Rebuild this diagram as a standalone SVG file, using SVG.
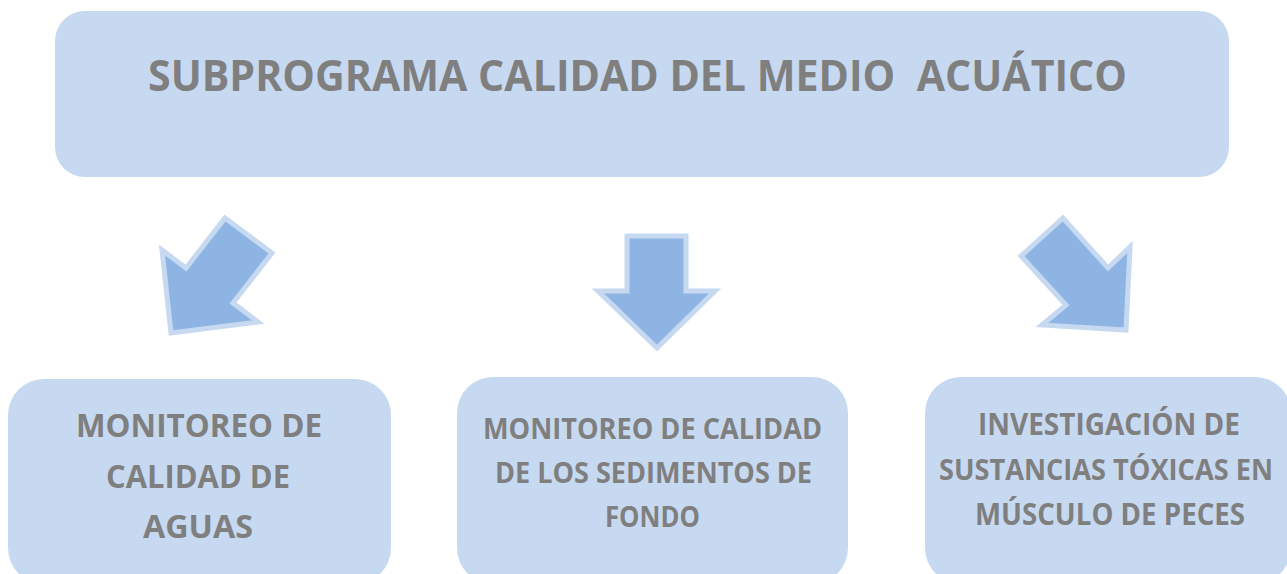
<svg xmlns="http://www.w3.org/2000/svg" width="1287" height="574" viewBox="0 0 1287 574">
<style>
.box{fill:#C6D9F1;}
.t{font-family:"Open Sans","Liberation Sans",sans-serif;font-weight:bold;fill:#7F7F7F;text-anchor:middle;}
.arr{fill:#8EB4E3;stroke:#C6D9F1;stroke-width:5;stroke-linejoin:miter;}
</style>
<rect width="1287" height="574" fill="#FFFFFF"/>
<g id="title">
<rect class="box" x="55" y="11" width="1174" height="166" rx="30" ry="30"/>
<text class="t" x="637.5" y="91" font-size="43" textLength="979" lengthAdjust="spacingAndGlyphs" xml:space="preserve">SUBPROGRAMA CALIDAD DEL MEDIO  ACUÁTICO</text>
</g>
<g id="connectors">
<polygon class="arr" points="171,333 162,250 186,268 225,218 272,253 233,303 258,322"/>
<polygon class="arr" points="627,236 686,236 686,291 715,291 657,348 598,291 627,291"/>
<polygon class="arr" points="1021,256 1063,218 1108,268 1130,247 1126,330 1042,325 1066,305"/>
</g>
<g id="node-aguas">
<rect class="box" x="8" y="379" width="383" height="205" rx="36" ry="36"/>
<text class="t" x="199" y="437" font-size="32.5" textLength="246" lengthAdjust="spacingAndGlyphs">MONITOREO DE</text>
<text class="t" x="198" y="488" font-size="32.5" textLength="184" lengthAdjust="spacingAndGlyphs">CALIDAD DE</text>
<text class="t" x="198" y="538" font-size="32.5" textLength="110" lengthAdjust="spacingAndGlyphs">AGUAS</text>
</g>
<g id="node-sedimentos">
<rect class="box" x="457" y="377" width="391" height="207" rx="36" ry="36"/>
<text class="t" x="652.5" y="439" font-size="28" textLength="339" lengthAdjust="spacingAndGlyphs">MONITOREO DE CALIDAD</text>
<text class="t" x="653.5" y="483" font-size="28" textLength="317" lengthAdjust="spacingAndGlyphs">DE LOS SEDIMENTOS DE</text>
<text class="t" x="652.5" y="527" font-size="28" textLength="95" lengthAdjust="spacingAndGlyphs">FONDO</text>
</g>
<g id="node-peces">
<rect class="box" x="925" y="377" width="366" height="207" rx="36" ry="36"/>
<text class="t" x="1109" y="435" font-size="29.5" textLength="262" lengthAdjust="spacingAndGlyphs">INVESTIGACIÓN DE</text>
<text class="t" x="1106" y="480" font-size="26.5" textLength="334" lengthAdjust="spacingAndGlyphs" transform="translate(0,480) scale(1,1.11) translate(0,-480)">SUSTANCIAS TÓXICAS EN</text>
<text class="t" x="1110" y="525" font-size="29.5" textLength="270" lengthAdjust="spacingAndGlyphs">MÚSCULO DE PECES</text>
</g>
</svg>
